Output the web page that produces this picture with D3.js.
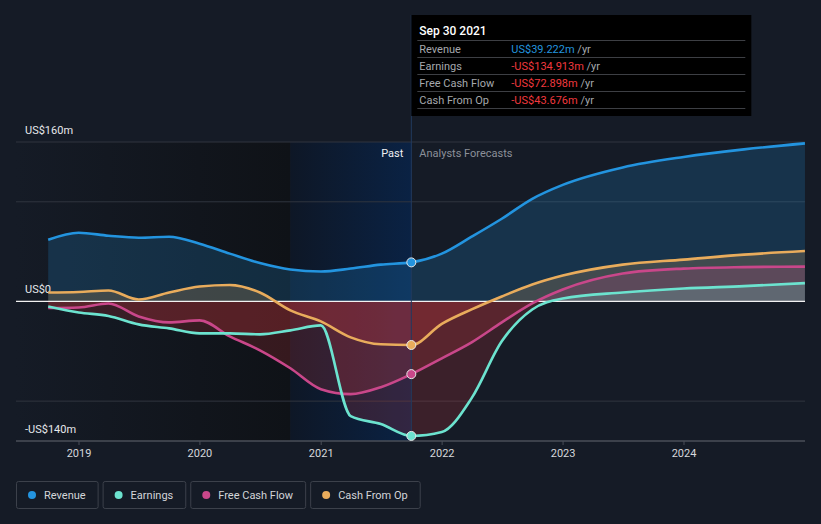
<!DOCTYPE html>
<html><head><meta charset="utf-8">
<script src="https://cdn.jsdelivr.net/npm/d3@7"></script>
<style>
body{margin:0;background:#151b26;}
svg{display:block;font-family:Roboto,"Noto Sans",sans-serif;}
</style></head>
<body><svg id="c" width="821" height="524"></svg>
<script>
const dates = ["2018-09-30","2018-12-31","2019-03-31","2019-06-30","2019-09-30","2019-12-31","2020-03-31","2020-06-30","2020-09-30","2020-12-31","2021-03-31","2021-06-30","2021-09-30",
  "2021-12-31","2022-03-31","2022-06-30","2022-09-30","2022-12-31","2023-06-30","2023-12-31","2024-06-30","2024-12-31"];
const revenue = [62,69,66,64,65,58,48,38.5,32,30,33,37,39.222, 48,65,83,103,117,134.5,145,152.6,158.6];
const earnings = [-5,-11,-14.5,-23,-27,-32,-32,-33,-29,-24,-115,-123,-134.913, -131,-97,-40,-8,3,9,13,15.4,18.4];
const freeCashFlow = [-6.5,-6,-2,-15,-21,-19,-35,-49,-67,-88,-93,-86,-72.898, -57,-41,-21,-2,12,28,33,34.5,35];
const cashFromOp = [9,9.5,11,2,9,15,16.5,9,-9,-20,-36,-43,-43.676, -22.5,-8,5,17,26,37,42,47,50.6];
const seriesNames = ["Revenue","Earnings","Free Cash Flow","Cash From Op"];
const seriesColors = ["#2394df","#6ce3cf","#c9478a","#e9ac5c"];
const xTickLabels = ["2019","2020","2021","2022","2023","2024"];
const yTickValues = [160,0,-140];
const yTickLabels = ["US$160m","US$0","-US$140m"];
const gridValues = [160,100,-100];
const nowDate = "2021-09-30";
const highlightStart = "2020-09-30";
const tooltipTitle = "Sep 30 2021";
const tooltipValues = ["US$39.222m","-US$134.913m","-US$72.898m","-US$43.676m"];

const parse = d3.timeParse("%Y-%m-%d");
const D = dates.map(parse);
const allSeries = [revenue, earnings, freeCashFlow, cashFromOp];

const svg = d3.select("#c");
const L=16, R=805, T=142, B=441;
const x = d3.scaleTime().domain([new Date(2019,0,1), new Date(2024,0,1)]).range([79,684]);
const y = d3.scaleLinear().domain([-140,160]).range([B,T]);
const xNow = x(parse(nowDate)), xHi = x(parse(highlightStart));

const defs = svg.append("defs");
const gPast = defs.append("linearGradient").attr("id","gPast").attr("x1","0").attr("x2","1");
gPast.append("stop").attr("offset","0").attr("stop-color","#151b26");
gPast.append("stop").attr("offset","1").attr("stop-color","#0f1217");
const gHi = defs.append("linearGradient").attr("id","gHi").attr("x1","0").attr("x2","1");
gHi.append("stop").attr("offset","0").attr("stop-color","#0e1726");
gHi.append("stop").attr("offset","1").attr("stop-color","#0a2244");
defs.append("clipPath").attr("id","above").append("rect").attr("x",0).attr("y",0).attr("width",821).attr("height",y(0));
defs.append("clipPath").attr("id","below").append("rect").attr("x",0).attr("y",y(0)).attr("width",821).attr("height",524-y(0));

svg.append("rect").attr("x",L).attr("y",T).attr("width",xHi-L).attr("height",B-T).attr("fill","url(#gPast)");
svg.append("rect").attr("x",xHi).attr("y",T).attr("width",xNow-xHi).attr("height",B-T).attr("fill","url(#gHi)");

// grid
svg.selectAll(".grid").data(gridValues).enter().append("line")
  .attr("x1",L).attr("x2",R).attr("y1",d=>y(d)).attr("y2",d=>y(d))
  .attr("stroke","#30353f").attr("stroke-width",1);

// areas
const order = [0,3,2,1];
order.forEach(i=>{
  const data = D.map((d,k)=>[d, allSeries[i][k]]);
  const area = d3.area().x(d=>x(d[0])).y0(y(0)).y1(d=>y(d[1])).curve(d3.curveMonotoneX);
  svg.append("path").attr("d",area(data)).attr("fill",seriesColors[i]).attr("fill-opacity",0.2).attr("clip-path","url(#above)");
  svg.append("path").attr("d",area(data)).attr("fill","#e0393e").attr("fill-opacity",0.19).attr("clip-path","url(#below)");
});

// zero line
svg.append("line").attr("x1",L).attr("x2",R).attr("y1",y(0)).attr("y2",y(0)).attr("stroke","#f2f2f2").attr("stroke-width",1.2);

// x axis
const xAxisG = svg.append("g").attr("transform",`translate(0,${B})`);
xAxisG.append("line").attr("x1",L).attr("x2",R).attr("stroke","#4a4f59").attr("stroke-width",1.5);
const xt = xAxisG.selectAll(".xt").data(xTickLabels).enter().append("g")
  .attr("transform",d=>`translate(${x(new Date(+d,0,1))},0)`);
xt.append("line").attr("y1",0).attr("y2",4).attr("stroke","#4a4f59");
xt.append("text").attr("y",16).attr("text-anchor","middle").attr("fill","#d6d8dc").attr("font-size",11).text(d=>d);

// y labels
svg.selectAll(".yl").data(yTickValues).enter().append("text")
  .attr("x",25).attr("y",(d)=>y(d)-8).attr("fill","#e6e8eb").attr("font-size",11)
  .text((d,i)=>yTickLabels[i]);

// now line
svg.append("line").attr("x1",xNow).attr("x2",xNow).attr("y1",15).attr("y2",B).attr("stroke","#223a5e").attr("stroke-width",1);

svg.append("text").attr("x",xNow-8).attr("y",157).attr("text-anchor","end").attr("fill","#eef0f2").attr("font-size",11).text("Past");
svg.append("text").attr("x",xNow+8).attr("y",157).attr("fill","#8b9099").attr("font-size",11).text("Analysts Forecasts");

// lines
[0,3,2,1].forEach(i=>{
  const data = D.map((d,k)=>[d, allSeries[i][k]]);
  const line = d3.line().x(d=>x(d[0])).y(d=>y(d[1])).curve(d3.curveMonotoneX);
  svg.append("path").attr("d",line(data)).attr("fill","none").attr("stroke",seriesColors[i]).attr("stroke-width",2.6);
});
// markers
const nowIdx = dates.indexOf(nowDate);
[0,3,2,1].forEach(i=>{
  svg.append("circle").attr("cx",x(D[nowIdx])).attr("cy",y(allSeries[i][nowIdx])).attr("r",4.5)
    .attr("fill",seriesColors[i]).attr("stroke","#e8e8e8").attr("stroke-width",1);
});

// tooltip
const tt = svg.append("g");
tt.append("rect").attr("x",xNow).attr("y",15).attr("width",340).attr("height",101).attr("fill","#000");
tt.append("text").attr("x",xNow+8).attr("y",35).attr("fill","#fff").attr("font-size",12).attr("font-weight",500).text(tooltipTitle);
seriesNames.forEach((n,i)=>{
  const yy = 40 + i*17;
  tt.append("line").attr("x1",xNow+6).attr("x2",xNow+334).attr("y1",yy+0.5).attr("y2",yy+0.5).attr("stroke","#3d3f44");
  tt.append("text").attr("x",xNow+8).attr("y",yy+12.5).attr("fill","#a5a8ad").attr("font-size",11).text(n);
  const t = tt.append("text").attr("x",xNow+100).attr("y",yy+12.5).attr("font-size",11);
  t.append("tspan").attr("fill", i===0 ? "#2394df" : "#f0393e").text(tooltipValues[i]);
  t.append("tspan").attr("fill","#a5a8ad").text(" /yr");
});
tt.append("line").attr("x1",xNow+6).attr("x2",xNow+334).attr("y1",108.5).attr("y2",108.5).attr("stroke","#3d3f44");

// legend
let lx = 16;
seriesNames.forEach((n,i)=>{
  const g = svg.append("g").attr("transform",`translate(${lx},481)`);
  const txt = g.append("text").attr("x",28).attr("y",17.5).attr("fill","#d3d5d9").attr("font-size",11).text(n);
  const w = txt.node().getComputedTextLength() + 40;
  g.insert("rect","text").attr("x",0.5).attr("y",0.5).attr("width",w).attr("height",27).attr("rx",2)
    .attr("fill","none").attr("stroke","#3c414b");
  g.append("circle").attr("cx",16).attr("cy",14).attr("r",4).attr("fill",seriesColors[i]);
  lx += w + 5;
});
</script></body></html>
